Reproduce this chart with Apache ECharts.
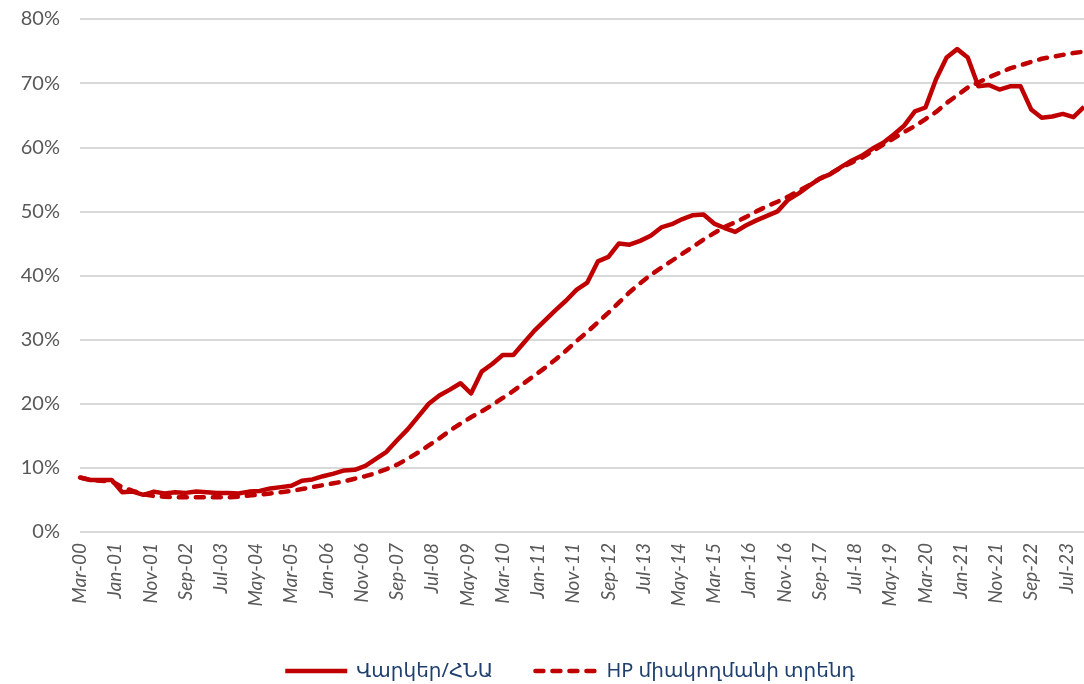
<!DOCTYPE html>
<html>
<head>
<meta charset="utf-8">
<script src="https://cdn.jsdelivr.net/npm/echarts@6/dist/echarts.min.js"></script>
<style>
    html, body { margin: 0; padding: 0; background: #fff; }
    #main { width: 1084px; height: 684px; }
</style>
</head>
<body>
<div id="main"></div>
<script>
// quarterly observations, first one is Mar-00, last one Dec-23
const firstYear = 2000;
const firstMonth = 2; // March (0-based)
const monthNames = ['Jan', 'Feb', 'Mar', 'Apr', 'May', 'Jun', 'Jul', 'Aug', 'Sep', 'Oct', 'Nov', 'Dec'];
const labelStep = 10; // a label every 10 months

// Վարկեր/ՀՆԱ, %
const loansToGdp = [
    8.5, 8.1, 8.1, 8.1, 6.2, 6.3, 5.8, 6.3, 6.0, 6.2,
    6.1, 6.3, 6.2, 6.1, 6.1, 6.0, 6.3, 6.4, 6.8, 7.0,
    7.2, 8.0, 8.2, 8.7, 9.1, 9.6, 9.7, 10.3, 11.4, 12.5,
    14.3, 16.0, 18.0, 20.0, 21.3, 22.2, 23.2, 21.6, 25.0, 26.2,
    27.6, 27.6, 29.5, 31.4, 33.0, 34.6, 36.1, 37.8, 38.9, 42.2,
    42.9, 45.0, 44.8, 45.4, 46.2, 47.5, 48.0, 48.8, 49.4, 49.5,
    48.1, 47.4, 46.8, 47.8, 48.6, 49.3, 50.0, 51.8, 52.8, 54.0,
    55.1, 55.8, 56.9, 57.9, 58.7, 59.8, 60.7, 62.0, 63.4, 65.6,
    66.2, 70.6, 74.0, 75.3, 74.0, 69.5, 69.7, 69.0, 69.5, 69.5,
    65.9, 64.6, 64.8, 65.2, 64.7, 66.3
];

// HP միակողմանի տրենդ, %
const hpTrend = [
    8.5, 8.1, 8.0, 7.9, 7.0, 6.4, 5.9, 5.6, 5.5, 5.4,
    5.4, 5.4, 5.4, 5.4, 5.4, 5.5, 5.7, 5.8, 6.0, 6.2,
    6.4, 6.7, 7.0, 7.3, 7.6, 7.9, 8.3, 8.7, 9.2, 9.8,
    10.5, 11.4, 12.4, 13.5, 14.6, 15.8, 16.9, 17.9, 18.8, 19.8,
    20.9, 22.0, 23.2, 24.4, 25.6, 26.9, 28.3, 29.8, 31.2, 32.7,
    34.2, 35.8, 37.4, 38.8, 40.1, 41.2, 42.3, 43.4, 44.5, 45.6,
    46.6, 47.6, 48.3, 49.1, 50.0, 50.8, 51.5, 52.3, 53.2, 54.1,
    55.1, 55.9, 56.8, 57.6, 58.4, 59.4, 60.4, 61.4, 62.4, 63.3,
    64.4, 65.5, 66.9, 68.1, 69.3, 70.1, 70.9, 71.6, 72.3, 72.8,
    73.3, 73.8, 74.1, 74.4, 74.7, 74.9
];

const seriesNames = ['Վարկեր/ՀՆԱ', 'HP միակողմանի տրենդ'];
const yTicks = [0, 10, 20, 30, 40, 50, 60, 70, 80];

// monthly category axis, quarterly points placed every 3rd month
const months = [];
const monthCount = (loansToGdp.length - 1) * 3 + 1;
for (let i = 0; i < monthCount; i++) {
    let m = firstMonth + i;
    let y = firstYear + Math.floor(m / 12);
    months.push(monthNames[m % 12] + '-' + String(y % 100).padStart(2, '0'));
}
function toMonthly(values) {
    let out = new Array(monthCount).fill(null);
    values.forEach((v, i) => { out[i * 3] = v; });
    return out;
}

const labelFont = "'Lato', 'Open Sans', 'DejaVu Sans', sans-serif";
const myChart = echarts.init(document.getElementById('main'), null, { renderer: 'canvas' });
myChart.setOption({
    animation: false,
    grid: { left: 80, top: 19, width: 1008, height: 513 },
    legend: {
        left: 278,
        top: 656,
        itemWidth: 62,
        itemHeight: 14,
        itemGap: 40,
        itemStyle: { opacity: 0 },
        lineStyle: { width: 4.5 },
        textStyle: { color: '#1F3F6E', fontSize: 20, fontFamily: "'Noto Sans', 'DejaVu Sans', sans-serif", padding: [0, 0, 0, 4] },
        data: seriesNames
    },
    xAxis: {
        type: 'category',
        data: months,
        boundaryGap: false,
        axisLine: { show: false },
        axisTick: { show: false },
        axisLabel: {
            interval: labelStep - 1,
            rotate: 90,
            margin: 11,
            color: '#595959',
            fontSize: 19,
            fontStyle: 'italic',
            fontFamily: labelFont
        },
        splitLine: { show: false }
    },
    yAxis: {
        type: 'value',
        min: yTicks[0],
        max: yTicks[yTicks.length - 1],
        interval: 10,
        axisLine: { show: false },
        axisTick: { show: false },
        axisLabel: {
            formatter: '{value}%',
            margin: 20,
            color: '#595959',
            fontSize: 20,
            fontFamily: labelFont
        },
        splitLine: { lineStyle: { color: '#D9D9D9', width: 2 } }
    },
    series: [
        {
            name: seriesNames[1],
            type: 'line',
            data: toMonthly(hpTrend),
            connectNulls: true,
            symbol: 'none',
            color: '#C00000',
            lineStyle: { color: '#C00000', width: 4.5, type: [8, 9], cap: 'round' }
        },
        {
            name: seriesNames[0],
            type: 'line',
            data: toMonthly(loansToGdp),
            connectNulls: true,
            symbol: 'none',
            color: '#C00000',
            lineStyle: { color: '#C00000', width: 4.5, join: 'round' }
        }
    ]
});
</script>
</body>
</html>
